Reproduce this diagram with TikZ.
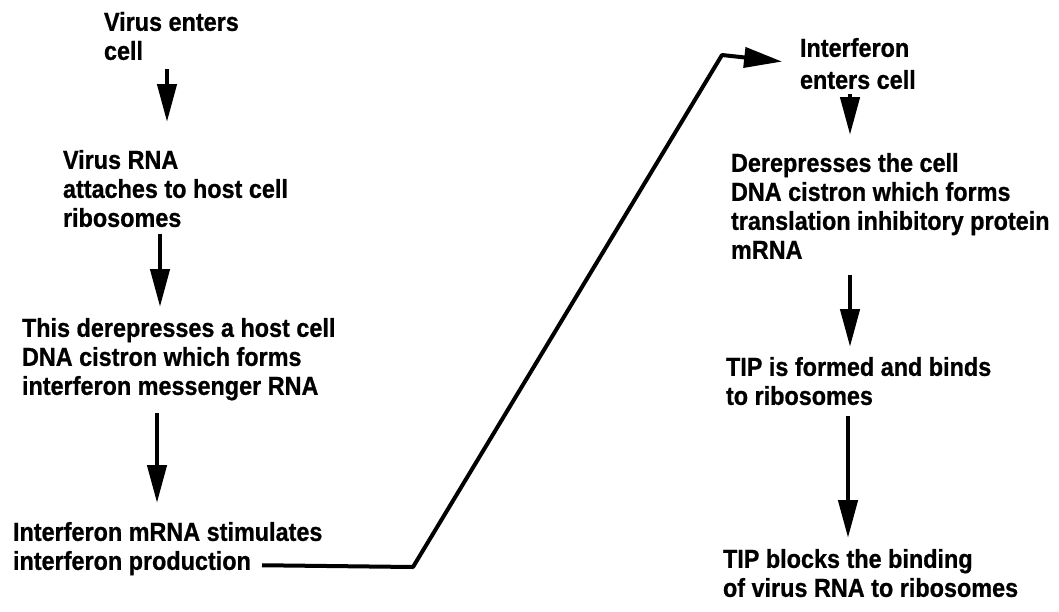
\documentclass[tikz,border=0pt]{standalone}
\usepackage{fontspec}
\newfontfamily\lbf{Liberation Sans}[FakeStretch=0.9,FakeBold=0.8]
\usetikzlibrary{arrows.meta,calc}
\begin{document}
\begin{tikzpicture}[x=1pt,y=-1pt,
  txt/.style={anchor=north west, inner sep=0pt, outer sep=0pt, align=left,
    font=\lbf\bfseries\fontsize{26}{29}\selectfont},
  arr/.style={line width=4.5pt, -{Triangle[length=38pt,width=19pt]}},
  conn/.style={line width=4pt, line join=round, -{Triangle[length=38pt,width=20pt]}}]
\useasboundingbox (0,0) rectangle (1059,611);
% left column
\node[txt] (A) at (104,12)  {Virus enters\\cell};
\node[txt] (B) at (63,150)  {Virus RNA\\attaches to host cell\\ribosomes};
\node[txt] (C) at (22,318)  {This derepresses a host cell\\DNA cistron which forms\\interferon messenger RNA};
\node[txt] (D) at (13,522)  {Interferon mRNA stimulates\\interferon production};
% right column
\node[txt] (E) at (800,38)  {Interferon\\[3pt]enters cell};
\node[txt] (F) at (731,153) {Derepresses the cell\\DNA cistron which forms\\translation inhibitory protein\\mRNA};
\node[txt] (G) at (726,357) {TIP is formed and binds\\to ribosomes};
\node[txt] (H) at (723,549) {TIP blocks the binding\\of virus RNA to ribosomes};
% vertical arrows
\draw[arr, shorten <=9pt,  shorten >=28pt] (A.south -| 167,0) -- (B.north -| 167,0);
\draw[arr, shorten <=6.5pt, shorten >=11pt] (B.south -| 160,0) -- (C.north -| 160,0);
\draw[arr, shorten <=13pt, shorten >=19pt] (C.south -| 157,0) -- (D.north -| 157,0);
\draw[arr, shorten <=5pt, shorten >=18pt] (E.south -| 850,0) -- (F.north -| 850,0);
\draw[arr, shorten <=16pt, shorten >=10pt] (F.south -| 850,0) -- (G.north -| 850,0);
\draw[arr, shorten <=10.5pt, shorten >=11pt] (G.south -| 848,0) -- (H.north -| 848,0);
% connector from left column to right column
\draw[conn, shorten >=18pt] ($(D.south west)+(249,-10)$) -- (413,567) -- (722,55) -- (E.west);
\end{tikzpicture}
\end{document}
